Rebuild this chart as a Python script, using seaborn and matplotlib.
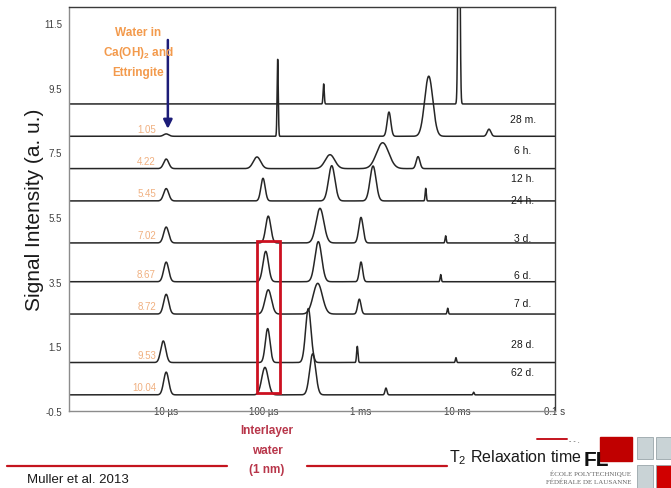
import numpy as np
import pandas as pd
import matplotlib
matplotlib.use("Agg")
import matplotlib.pyplot as plt
import seaborn as sns
from matplotlib.patches import Rectangle
from matplotlib.lines import Line2D
from matplotlib.ticker import LogLocator, NullFormatter

# ---------------------------------------------------------------- data
ages = ["28 m.", "6 h.", "12 h.", "24 h.", "3 d.", "6 d.", "7 d.", "28 d.", "62 d."]
baselines = [9.0, 8.0, 7.0, 6.0, 4.7, 3.5, 2.5, 1.0, 0.0]

# water held in Ca(OH)2 and ettringite (signal fraction) and its T2 (log10 s)
solid_water = [0.0, 1.05, 4.22, 5.45, 7.02, 8.67, 8.72, 9.53, 10.04]
solid_water_t2 = [-5.0, -5.0, -5.0, -5.0, -5.0, -5.0, -5.0, -5.03, -5.0]
solid_water_sigma = 0.026

# remaining T2 components per age: log10(T2 / s), peak height, log-width
pore_t2 = [
    [-3.380, -1.988],
    [-3.853, -2.708, -2.299, -1.679],
    [-4.066, -3.315, -2.773, -2.409],
    [-4.004, -3.297, -2.872, -2.330],
    [-3.950, -3.418, -2.996, -2.125],
    [-3.976, -3.435, -2.996, -2.176],
    [-3.950, -3.441, -3.013, -2.104],
    [-3.956, -3.538, -3.034, -2.019],
    [-3.984, -3.493, -2.739, -1.837],
]
pore_height = [
    [0.62, 10.0],
    [2.38, 0.75, 1.86, 0.22],
    [0.36, 0.43, 0.80, 0.37],
    [0.70, 1.09, 1.08, 0.39],
    [0.83, 1.07, 0.79, 0.22],
    [0.94, 1.24, 0.61, 0.22],
    [0.75, 0.95, 0.46, 0.18],
    [1.05, 1.67, 0.50, 0.15],
    [0.85, 1.27, 0.21, 0.08],
]
pore_sigma = [
    [0.006, 0.009],
    [0.006, 0.019, 0.042, 0.019],
    [0.038, 0.049, 0.063, 0.019],
    [0.022, 0.033, 0.031, 0.006],
    [0.026, 0.040, 0.022, 0.006],
    [0.028, 0.035, 0.017, 0.006],
    [0.033, 0.047, 0.017, 0.006],
    [0.024, 0.028, 0.007, 0.006],
    [0.033, 0.031, 0.010, 0.006],
]

x_ticks = [1e-5, 1e-4, 1e-3, 1e-2, 1e-1]
x_tick_labels = ["10 µs", "100 µs", "1 ms", "10 ms", "0.1 s"]
y_ticks = [-0.5, 1.5, 3.5, 5.5, 7.5, 9.5, 11.5]
y_tick_labels = ["-0.5", "1.5", "3.5", "5.5", "7.5", "9.5", "11.5"]

# ------------------------------------------------------- build spectra
log_t2 = np.linspace(-6.0, -1.0, 6000)
frames = []
for i, age in enumerate(ages):
    sig = np.full_like(log_t2, baselines[i])
    sig += 0.07 * solid_water[i] * np.exp(-0.5 * ((log_t2 - solid_water_t2[i]) / solid_water_sigma) ** 2)
    for c, h, s in zip(pore_t2[i], pore_height[i], pore_sigma[i]):
        sig += h * np.exp(-0.5 * ((log_t2 - c) / s) ** 2)
    frames.append(pd.DataFrame({"T2": 10 ** log_t2, "signal": sig, "age": age}))
spectra = pd.concat(frames, ignore_index=True)

# ---------------------------------------------------------------- style
sns.set_theme(style="white")
plt.rcParams["font.family"] = ["Liberation Sans", "DejaVu Sans"]
plt.rcParams["mathtext.fontset"] = "custom"
plt.rcParams["mathtext.rm"] = "Liberation Sans"

W, H = 671, 489
fig = plt.figure(figsize=(W / 100, H / 100), dpi=100)
fig.patch.set_facecolor("white")
ax = fig.add_axes([69 / W, 77 / H, 486 / W, 404 / H])


def px(x, y):
    return x / W, 1 - y / H


sns.lineplot(data=spectra, x="T2", y="signal", hue="age", hue_order=ages,
             palette=["#262626"] * len(ages), estimator=None, sort=False,
             legend=False, linewidth=1.1, ax=ax)

ax.set_xscale("log")
ax.set_xlim(1e-6, 1e-1)
ax.set_ylim(-0.5, 12.0)
ax.set_xlabel("")
ax.set_ylabel("")

ax.set_xticks(x_ticks)
ax.set_xticklabels(x_tick_labels)
ax.xaxis.set_minor_locator(LogLocator(base=10, subs=np.arange(2, 10)))
ax.xaxis.set_minor_formatter(NullFormatter())
ax.set_yticks(y_ticks)
ax.set_yticklabels(y_tick_labels)

ax.tick_params(axis="x", which="major", direction="out", length=3, width=0.8,
               color="#8c8c8c", pad=-6.5, labelsize=7, labelcolor="#404040")
ax.tick_params(axis="x", which="minor", direction="out", length=2.5, width=0.8,
               color="#8c8c8c")
ax.tick_params(axis="y", which="major", direction="out", length=3, width=0.8,
               color="#8c8c8c", pad=2, labelsize=7, labelcolor="#404040")

for side in ("top", "right"):
    ax.spines[side].set_color("#3a3a3a")
    ax.spines[side].set_linewidth(1.0)
for side in ("left", "bottom"):
    ax.spines[side].set_color("#8c8c8c")
    ax.spines[side].set_linewidth(1.0)

# age labels on the right
label_y = [8.54, 7.59, 6.72, 6.04, 4.84, 3.70, 2.83, 1.57, 0.70]
for age, ly in zip(ages, label_y):
    ax.text(0.934, ly, age, transform=ax.get_yaxis_transform(), ha="center",
            va="center", fontsize=7.5, color="#1a1a1a")

# solid-water fraction next to each 10 µs peak
for i, val in enumerate(solid_water):
    if val > 0:
        ax.text(0.179, baselines[i] + 0.24, f"{val:.2f}", transform=ax.get_yaxis_transform(),
                ha="right", va="center", fontsize=7, color="#f0b080")

# arrow to the first Ca(OH)2 / ettringite signal
ax.annotate("", xy=(10 ** solid_water_t2[1] * 1.04, baselines[1] + 0.23),
            xytext=(10 ** solid_water_t2[1] * 1.04, 10.98),
            arrowprops=dict(arrowstyle="-|>", color="#1c1c78", lw=1.8,
                            mutation_scale=13, shrinkA=0, shrinkB=0))

# box around the interlayer-water peaks
ax.add_patch(Rectangle((8.65e-5, 0.05), 1.48e-4 - 8.65e-5, 4.71, fill=False,
                       edgecolor="#cc1020", linewidth=2.0, zorder=5))

# annotations
orange = "#f39a4c"
for txt, y in [("Water in", 36), (r"Ca(OH)$_{\mathregular{2}}$ and", 56), ("Ettringite", 76)]:
    fig.text(*px(138, y), txt, ha="center", va="baseline", fontsize=8.5,
             fontweight="bold", color=orange)

crimson = "#b8364a"
for txt, y in [("Interlayer", 434), ("water", 454), ("(1 nm)", 473)]:
    fig.text(*px(267, y), txt, ha="center", va="baseline", fontsize=8.5,
             fontweight="bold", color=crimson)

fig.text(*px(35, 210), "Signal Intensity (a. u.)", rotation=90, ha="center",
         va="center", fontsize=15, color="#1a1a1a")

fig.text(*px(27, 483), "Muller et al. 2013", ha="left", va="baseline",
         fontsize=9.5, color="#1a1a1a")
fig.text(*px(449, 462), r"T$_{\mathregular{2}}$ Relaxation time", ha="left",
         va="baseline", fontsize=11.5, color="#1a1a1a")

# slide decorations
red = "#c4141e"
for x0, x1 in [(7, 227), (307, 447)]:
    fig.add_artist(Line2D([x0 / W, x1 / W], [1 - 467 / H] * 2, color=red, lw=1.6))
fig.add_artist(Line2D([537 / W, 567 / W], [1 - 440 / H] * 2, color=red, lw=1.4))
fig.text(*px(569, 442), "- - .", ha="left", va="center", fontsize=5, color="#555555")
fig.text(*px(584, 466), "FL", ha="left", va="baseline", fontsize=15,
         fontweight="bold", color="#111111")
fig.add_artist(Rectangle((600 / W, 1 - 462 / H), 32 / W, 24 / H, color="#c00000",
                         transform=fig.transFigure))
fig.text(*px(631, 476), "ÉCOLE POLYTECHNIQUE", ha="right", va="baseline", fontsize=5,
         color="#666666", family=["Liberation Serif", "DejaVu Serif"])
fig.text(*px(631, 484), "FÉDÉRALE DE LAUSANNE", ha="right", va="baseline", fontsize=5,
         color="#666666", family=["Liberation Serif", "DejaVu Serif"])
for (x0, y0, w, h, c) in [(637, 438, 16, 22, "#c9d3d6"), (656, 438, 15, 22, "#c9d3d6"),
                          (637, 466, 16, 23, "#c9d3d6"), (656, 466, 15, 23, "#d00000")]:
    fig.add_artist(Rectangle((x0 / W, 1 - (y0 + h) / H), w / W, h / H, facecolor=c,
                             edgecolor="#9aa6aa", lw=0.6, transform=fig.transFigure))

fig.savefig("out.png", dpi=100)
